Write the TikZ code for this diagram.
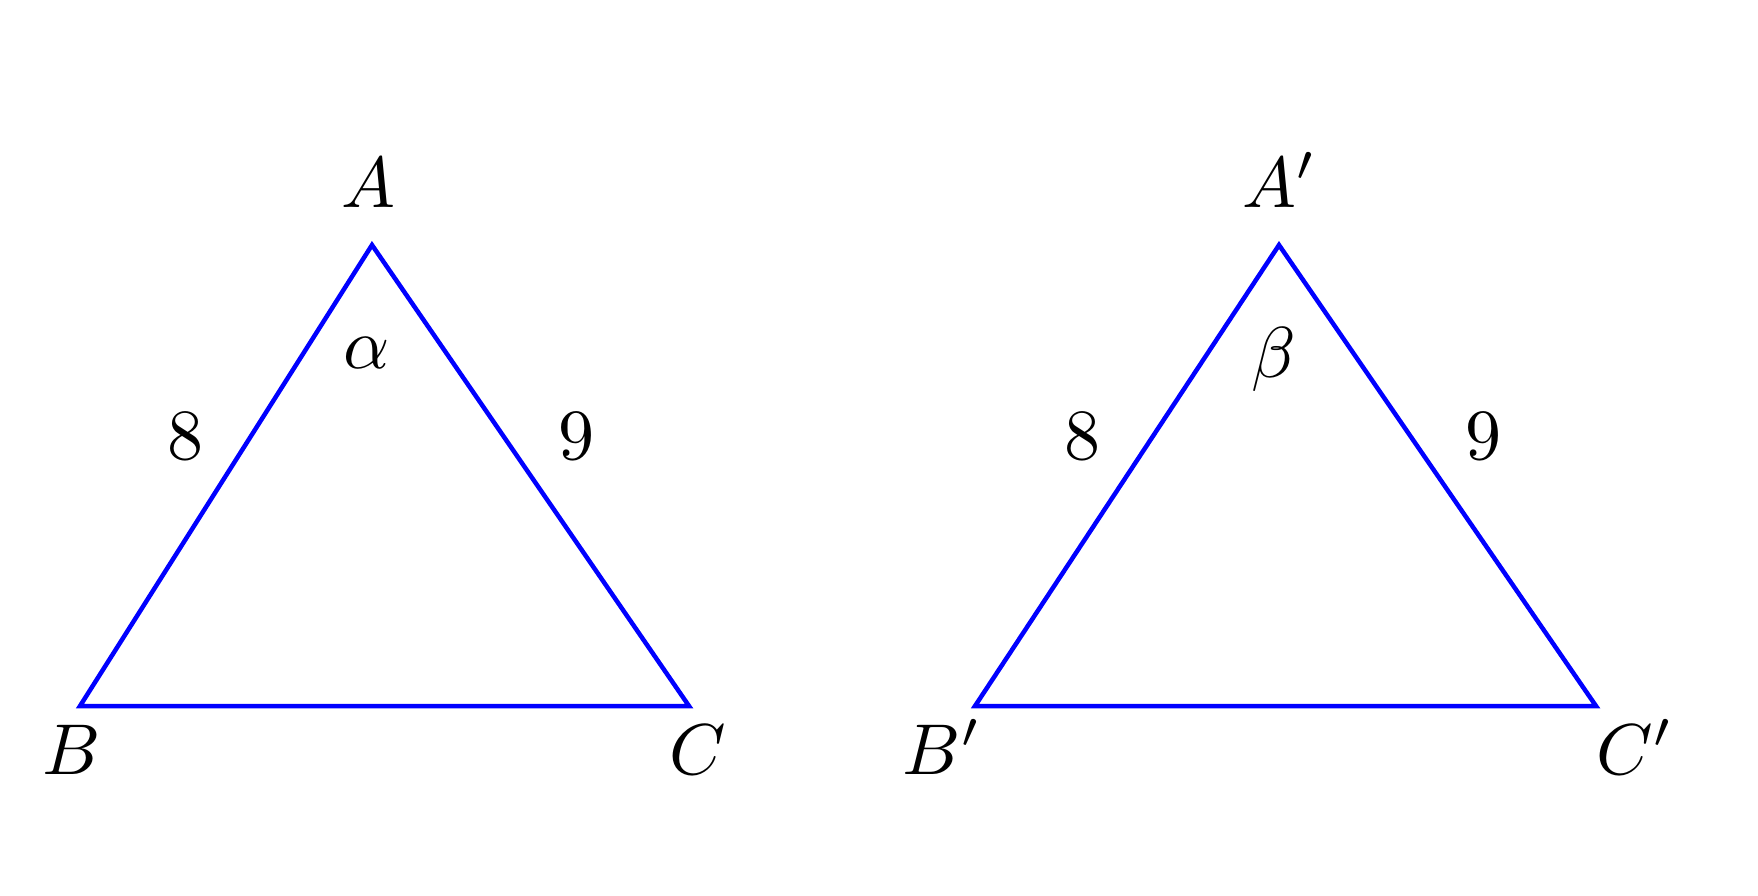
\documentclass[tikz,border=0pt]{standalone}
\begin{document}
\begin{tikzpicture}[x=1pt,y=-1pt,
  side/.style={draw=blue,line width=4.5pt,line join=miter},
  lbl/.style={anchor=base,inner sep=0pt,scale=7.2}]
\useasboundingbox[fill=white] (0,0) rectangle (1758,895);
% left triangle
\coordinate (A) at (372,245);
\coordinate (B) at (80,706);
\coordinate (C) at (689,706);
\draw[side] (A) -- (B) -- (C) -- cycle;
\node[lbl] (lA) at (368,207) {$A$};
\node[lbl] (lB) at (72,774) {$B$};
\node[lbl] (lC) at (698,774) {$C$};
\node[lbl] (la) at (367,368) {$\alpha$};
\node[lbl] (l8) at (185,459) {$8$};
\node[lbl] (l9) at (576,459) {$9$};
% right triangle
\coordinate (A2) at (1279,245);
\coordinate (B2) at (975,706);
\coordinate (C2) at (1596,706);
\draw[side] (A2) -- (B2) -- (C2) -- cycle;
\node[lbl] (lA2) at (1280,207) {$A'$};
\node[lbl] (lB2) at (942,774) {$B'$};
\node[lbl] (lC2) at (1635,774) {$C'$};
\node[lbl] (lb) at (1274,377) {$\beta$};
\node[lbl] (l82) at (1082,459) {$8$};
\node[lbl] (l92) at (1483,459) {$9$};
\end{tikzpicture}
\end{document}
